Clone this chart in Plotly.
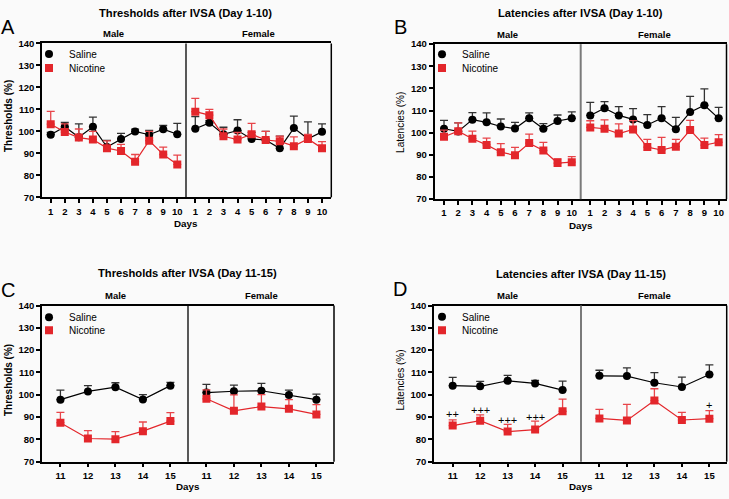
import plotly.graph_objects as go

# ---------------- data ----------------
days_1_10 = [1, 2, 3, 4, 5, 6, 7, 8, 9, 10]
days_11_15 = [11, 12, 13, 14, 15]
series_names = ["Saline", "Nicotine"]

# Panel A: Thresholds after IVSA (Day 1-10)
a_male_saline = [98.5, 102.1, 97.4, 102.1, 92.9, 96.6, 100.0, 98.5, 101.0, 98.7]
a_male_saline_err = [1.0, 2.0, 6.0, 4.4, 3.0, 2.5, 1.0, 2.0, 1.7, 5.0]
a_male_nicotine = [103.3, 99.7, 97.2, 96.3, 92.4, 91.1, 86.2, 95.8, 89.5, 85.0]
a_male_nicotine_err = [5.8, 3.7, 3.9, 3.7, 3.3, 3.0, 3.3, 4.2, 3.4, 4.2]
a_female_saline = [101.2, 103.9, 98.7, 100.4, 96.6, 96.1, 92.3, 101.5, 96.7, 99.8]
a_female_saline_err = [5.5, 1.0, 3.2, 4.9, 3.0, 3.9, 5.6, 5.5, 7.6, 3.6]
a_female_nicotine = [109.0, 107.4, 97.8, 96.3, 98.7, 96.1, 95.5, 93.3, 96.6, 92.4]
a_female_nicotine_err = [6.0, 2.6, 3.3, 3.2, 5.0, 3.9, 2.3, 4.2, 2.0, 3.0]

# Panel B: Latencies after IVSA (Day 1-10)
b_male_saline = [101.8, 100.6, 105.9, 104.7, 102.8, 101.9, 106.5, 101.8, 105.3, 106.5]
b_male_saline_err = [3.8, 3.8, 3.2, 4.3, 3.4, 2.8, 2.5, 2.3, 2.7, 2.9]
b_male_nicotine = [98.2, 100.7, 97.3, 94.5, 91.2, 89.8, 95.3, 92.0, 86.3, 86.7]
b_male_nicotine_err = [3.0, 3.7, 3.4, 3.1, 3.9, 3.6, 4.1, 3.6, 2.0, 2.5]
b_female_saline = [107.8, 111.1, 107.8, 106.0, 103.5, 106.5, 101.6, 109.3, 112.4, 106.5]
b_female_saline_err = [5.9, 2.9, 4.0, 4.9, 4.7, 5.3, 5.3, 7.1, 7.4, 4.9]
b_female_nicotine = [102.4, 101.8, 99.6, 101.5, 93.5, 92.2, 93.7, 101.2, 94.4, 95.7]
b_female_nicotine_err = [3.0, 4.0, 4.4, 4.0, 3.5, 5.7, 3.3, 4.4, 3.2, 3.4]

# Panel C: Thresholds after IVSA (Day 11-15)
c_male_saline = [97.8, 101.5, 103.4, 97.9, 104.1]
c_male_saline_err = [4.3, 2.6, 2.0, 2.2, 1.5]
c_male_nicotine = [87.5, 80.4, 80.1, 83.7, 88.2]
c_male_nicotine_err = [4.6, 3.5, 3.4, 4.1, 3.8]
c_female_saline = [101.0, 101.6, 101.8, 99.9, 97.8]
c_female_saline_err = [3.7, 2.7, 3.3, 2.2, 2.5]
c_female_nicotine = [98.2, 92.8, 94.7, 93.7, 91.2]
c_female_nicotine_err = [4.0, 7.2, 5.4, 4.1, 4.4]

# Panel D: Latencies after IVSA (Day 11-15)
d_male_saline = [104.1, 103.8, 106.3, 105.1, 102.1]
d_male_saline_err = [3.7, 2.2, 2.4, 1.4, 4.0]
d_male_nicotine = [86.2, 88.4, 83.5, 84.4, 92.6]
d_male_nicotine_err = [2.6, 2.6, 3.2, 3.8, 5.5]
d_female_saline = [108.5, 108.4, 105.4, 103.5, 109.1]
d_female_saline_err = [2.5, 3.7, 4.5, 4.4, 4.3]
d_female_nicotine = [89.4, 88.5, 97.4, 88.7, 89.3]
d_female_nicotine_err = [4.1, 7.2, 5.3, 3.4, 3.6]

# significance marks in panel D
d_male_sig_days = [11, 12, 13, 14]
d_male_sig_text = ["++", "+++", "+++", "+++"]
d_male_sig_y = [91.3, 93.1, 88.8, 90.1]
d_female_sig_days = [15]
d_female_sig_text = ["+"]
d_female_sig_y = [95.3]

y_tick_vals = [70, 80, 90, 100, 110, 120, 130, 140]

# ---------------- styling ----------------
W, H = 729, 499
FONT = "Liberation Sans, Arial, Helvetica, sans-serif"
RED = "#e3262b"
RED_ERR = "#e8454a"
BLACK = "#000000"
BLACK_ERR = "#333333"
BG = "#fafafa"


def fx(p):
    return p / W


def fy(p):
    return 1 - p / H


panels = [
    dict(letter="A", title="Thresholds after IVSA (Day 1-10)", ytitle="Thresholds (%)", ybold=True,
         days=days_1_10,
         series=[(a_male_saline, a_male_saline_err, a_male_nicotine, a_male_nicotine_err),
                 (a_female_saline, a_female_saline_err, a_female_nicotine, a_female_nicotine_err)],
         left=42, mid=186, right=331.3, top=38.3, bottom=195.7,
         xr_m=[0.38, 10.62], xr_f=[0.34, 10.66], divcolor="#000000", divw=1.3,
         title_xy=(185.7, 7), letter_xy=(8, 21), male_xy=(113.7, 28.5), female_xy=(258.3, 28.5),
         days_xy=(185.8, 222.3), ytitle_xy=(8, 112.5), legend_x=29, legend_y=(49, 63.5)),
    dict(letter="B", title="Latencies after IVSA (Day 1-10)", ytitle="Latencies (%)", ybold=False,
         days=days_1_10,
         series=[(b_male_saline, b_male_saline_err, b_male_nicotine, b_male_nicotine_err),
                 (b_female_saline, b_female_saline_err, b_female_nicotine, b_female_nicotine_err)],
         left=434.5, mid=580.7, right=726.5, top=39, bottom=197.5,
         xr_m=[0.33, 10.63], xr_f=[0.33, 10.55], divcolor="#7a7a7a", divw=2,
         title_xy=(580.7, 7), letter_xy=(400, 21), male_xy=(507.7, 29), female_xy=(654, 29),
         days_xy=(580.7, 224), ytitle_xy=(400.5, 119), legend_x=422, legend_y=(49.3, 63.5)),
    dict(letter="C", title="Thresholds after IVSA (Day 11-15)", ytitle="Thresholds (%)", ybold=True,
         days=days_11_15,
         series=[(c_male_saline, c_male_saline_err, c_male_nicotine, c_male_nicotine_err),
                 (c_female_saline, c_female_saline_err, c_female_nicotine, c_female_nicotine_err)],
         left=42, mid=188, right=334, top=306.3, bottom=466,
         xr_m=[10.33, 15.64], xr_f=[10.33, 15.64], divcolor="#000000", divw=1.3,
         title_xy=(188, 273), letter_xy=(8, 290), male_xy=(115, 296), female_xy=(261.7, 296),
         days_xy=(188, 491.7), ytitle_xy=(8, 382.5), legend_x=29, legend_y=(318.3, 331.5)),
    dict(letter="D", title="Latencies after IVSA (Day 11-15)", ytitle="Latencies (%)", ybold=False,
         days=days_11_15,
         series=[(d_male_saline, d_male_saline_err, d_male_nicotine, d_male_nicotine_err),
                 (d_female_saline, d_female_saline_err, d_female_nicotine, d_female_nicotine_err)],
         left=434, mid=581, right=726.7, top=306.3, bottom=466,
         xr_m=[10.32, 15.67], xr_f=[10.33, 15.63], divcolor="#7a7a7a", divw=2,
         title_xy=(581, 274), letter_xy=(400, 289), male_xy=(507.7, 296), female_xy=(654, 296),
         days_xy=(581, 491.7), ytitle_xy=(400.5, 382.5), legend_x=422, legend_y=(317.7, 331.5)),
]

fig = go.Figure()
layout = dict(width=W, height=H, margin=dict(l=0, r=0, t=0, b=0),
              paper_bgcolor=BG, plot_bgcolor=BG, font=dict(family=FONT, color="#000"),
              showlegend=True)
annotations = []
shapes = []

for i, p in enumerate(panels):
    xm = 2 * i + 1
    xf = 2 * i + 2
    yi = i + 1
    xm_name = "x" if xm == 1 else f"x{xm}"
    xf_name = f"x{xf}"
    y_name = "y" if yi == 1 else f"y{yi}"
    leg_names = []
    for k in range(2):
        n = 2 * i + k + 1
        leg_names.append("legend" if n == 1 else f"legend{n}")

    common_x = dict(showline=True, linecolor="#000", linewidth=1.5, mirror=True,
                    ticks="outside", ticklen=4, tickwidth=1.5, tickcolor="#000",
                    tickvals=p["days"], tickfont=dict(size=9.5, weight="bold", family=FONT),
                    showgrid=False, zeroline=False, anchor=y_name, fixedrange=True)
    layout["xaxis" if xm == 1 else f"xaxis{xm}"] = dict(common_x, domain=[fx(p["left"]), fx(p["mid"])],
                                                         range=p["xr_m"])
    layout[f"xaxis{xf}"] = dict(common_x, domain=[fx(p["mid"]), fx(p["right"])], range=p["xr_f"])
    layout["yaxis" if yi == 1 else f"yaxis{yi}"] = dict(
        domain=[fy(p["bottom"]), fy(p["top"])], range=[70, 140], tickvals=y_tick_vals,
        showline=True, linecolor="#000", linewidth=1.5, ticks="outside", ticklen=4, tickwidth=1.5,
        tickcolor="#000", tickfont=dict(size=9.5, weight="bold", family=FONT),
        showgrid=False, zeroline=False, anchor=xm_name, fixedrange=True)

    for j, (sal, sal_err, nic, nic_err) in enumerate(p["series"]):
        xa = xm_name if j == 0 else xf_name
        fig.add_trace(go.Scatter(
            x=p["days"], y=sal, mode="lines+markers", name=series_names[0],
            xaxis=xa, yaxis=y_name, showlegend=False,
            line=dict(color=BLACK, width=1.2),
            marker=dict(symbol="circle", size=8, color=BLACK),
            error_y=dict(type="data", array=sal_err, arrayminus=[0] * len(sal_err), symmetric=False,
                         color=BLACK_ERR, thickness=1.3, width=4)))
        fig.add_trace(go.Scatter(
            x=p["days"], y=nic, mode="lines+markers", name=series_names[1],
            xaxis=xa, yaxis=y_name, showlegend=False,
            line=dict(color=RED, width=1.2),
            marker=dict(symbol="square", size=8, color=RED),
            error_y=dict(type="data", array=nic_err, arrayminus=[0] * len(nic_err), symmetric=False,
                         color=RED_ERR, thickness=1.3, width=4)))

    # legend entries (one small legend per entry so spacing can match)
    for k, (nm, sym, col) in enumerate([(series_names[0], "circle", BLACK),
                                         (series_names[1], "square", RED)]):
        fig.add_trace(go.Scatter(x=[None], y=[None], mode="markers", name=nm,
                                 xaxis=xm_name, yaxis=y_name, legend=leg_names[k], showlegend=True,
                                 marker=dict(symbol=sym, size=8, color=col)))
        layout[leg_names[k]] = dict(x=fx(p["legend_x"]), y=fy(p["legend_y"][k]), xanchor="left",
                                    yanchor="middle", bgcolor="rgba(0,0,0,0)", borderwidth=0,
                                    font=dict(size=10, family=FONT), itemwidth=30, tracegroupgap=0)

    # right frame edge and Male/Female divider
    shapes.append(dict(type="line", xref="paper", yref="paper",
                       x0=fx(p["right"]), x1=fx(p["right"]), y0=fy(p["bottom"]), y1=fy(p["top"]),
                       line=dict(color="#000", width=1.5)))
    shapes.append(dict(type="line", xref="paper", yref="paper",
                       x0=fx(p["mid"]), x1=fx(p["mid"]), y0=fy(p["bottom"]), y1=fy(p["top"]),
                       line=dict(color=p["divcolor"], width=p["divw"])))

    def ann(text, xy, size, bold=True, angle=0):
        annotations.append(dict(text=text, x=fx(xy[0]), y=fy(xy[1]), xref="paper", yref="paper",
                                xanchor="center", yanchor="middle", showarrow=False, textangle=angle,
                                font=dict(size=size, family=FONT, color="#000",
                                          weight="bold" if bold else "normal")))

    ann(p["title"], p["title_xy"], 11.2)
    ann(p["letter"], p["letter_xy"], 20, bold=False)
    ann("Male", p["male_xy"], 9.5)
    ann("Female", p["female_xy"], 9.5)
    ann("Days", p["days_xy"], 9.8)
    ann(p["ytitle"], p["ytitle_xy"], 10, bold=p["ybold"], angle=-90)

for d, t, yv in zip(d_male_sig_days, d_male_sig_text, d_male_sig_y):
    annotations.append(dict(text=t, x=d, y=yv, xref="x7", yref="y4", showarrow=False,
                            xanchor="center", yanchor="middle", font=dict(size=11, family=FONT)))
for d, t, yv in zip(d_female_sig_days, d_female_sig_text, d_female_sig_y):
    annotations.append(dict(text=t, x=d, y=yv, xref="x8", yref="y4", showarrow=False,
                            xanchor="center", yanchor="middle", font=dict(size=11, family=FONT)))

layout["annotations"] = annotations
layout["shapes"] = shapes
fig.update_layout(**layout)
fig.write_html("out.html", config={"displayModeBar": False},
               post_script="document.body.style.margin='0px';document.body.style.overflow='hidden';")
